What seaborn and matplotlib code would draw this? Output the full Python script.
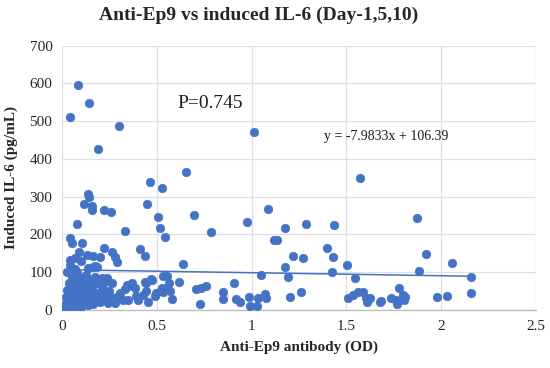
import numpy as np
import pandas as pd
import matplotlib
matplotlib.use("Agg")
import matplotlib.pyplot as plt
import seaborn as sns

# values (anti-Ep9 OD, induced IL-6 pg/mL)
od_sparse = [0.086, 0.141, 0.044, 0.298, 0.189, 0.463, 0.525, 0.653, 1.013, 1.573,
             0.137, 0.143, 0.116, 0.158, 0.155, 0.222, 0.257, 0.076, 0.446, 0.507,
             0.516, 0.544, 0.697, 0.786, 0.333, 0.044, 0.050, 0.106, 0.090, 0.129,
             0.164, 0.199, 0.220, 0.261, 0.278, 0.287, 0.410, 0.437, 0.636, 0.041,
             0.067, 0.102, 0.041, 0.173, 0.137, 0.164, 0.185, 0.551, 0.472, 0.442,
             0.618, 0.708, 0.735, 0.757, 0.727, 0.578, 0.208, 0.340, 0.367, 0.565,
             0.548, 0.569, 0.533, 0.525]
il6_sparse = [595, 548, 511, 487, 425, 340, 323, 366, 472, 348,
              307, 298, 280, 275, 265, 265, 258, 228, 280, 246,
              216, 192, 251, 206, 210, 190, 178, 176, 154, 145,
              142, 140, 163, 152, 139, 126, 162, 143, 121, 132,
              137, 130, 119, 115, 110, 113, 113, 90, 79, 72,
              75, 55, 57, 63, 16, 28, 85, 66, 71, 72,
              55, 51, 48, 57]

od_mid = [0.974, 1.087, 1.175, 1.287, 1.435, 1.118, 1.133, 1.397, 1.428, 1.217,
          1.270, 1.502, 1.178, 1.425, 1.051, 1.194, 1.546, 0.909, 0.851, 0.847,
          0.918, 0.939, 0.988, 0.991, 1.027, 1.035, 1.071, 1.076, 1.203, 1.259,
          1.511, 1.537, 1.564, 1.590, 1.604, 1.607, 1.678, 1.625, 1.684, 1.875,
          1.921, 2.059, 1.883, 2.159, 2.157, 2.032, 1.981, 1.777, 1.801, 1.810,
          1.798, 1.735, 1.763, 1.767, 1.805]
il6_mid = [234, 266, 218, 228, 226, 185, 185, 163, 141, 143,
           137, 118, 113, 101, 92, 88, 84, 72, 46, 28,
           28, 22, 35, 11, 10, 31, 42, 31, 34, 48,
           31, 40, 48, 46, 31, 22, 22, 31, 23, 244,
           147, 124, 103, 86, 44, 37, 34, 59, 40, 35,
           28, 31, 26, 16, 25]

od_dense = [0.012, 0.020, 0.018, 0.025, 0.030, 0.035, 0.040, 0.045, 0.050, 0.028, 0.050, 0.038,
            0.055, 0.060, 0.065, 0.070, 0.075, 0.080, 0.085, 0.090, 0.095, 0.100, 0.098, 0.070,
            0.105, 0.110, 0.115, 0.120, 0.125, 0.130, 0.135, 0.140, 0.145, 0.150,
            0.155, 0.160, 0.165, 0.170, 0.175, 0.180, 0.190, 0.195, 0.200,
            0.210, 0.215, 0.225, 0.230, 0.240, 0.245,
            0.236, 0.261, 0.226, 0.252, 0.296, 0.304, 0.330, 0.347, 0.365, 0.382,
            0.347, 0.400, 0.427, 0.445, 0.436, 0.471, 0.497, 0.524, 0.533, 0.453,
            0.489, 0.392, 0.278, 0.322]
il6_dense = [8, 18, 35, 52, 28, 70, 10, 45, 88, 100, 62, 22,
             5, 30, 15, 50, 75, 98, 38, 60, 22, 85, 8, 108,
             45, 18, 68, 30, 92, 55, 12, 40, 78, 25,
             60, 35, 15, 48, 88, 28, 70, 42, 20,
             55, 30, 75, 38, 18, 50,
             84, 71, 49, 36, 36, 45, 54, 63, 69, 58,
             27, 27, 40, 49, 75, 81, 45, 49, 90, 22,
             36, 36, 18, 27]

slope = -7.9833
intercept = 106.39
p_value = "P=0.745"
x_ticks = [0, 0.5, 1, 1.5, 2, 2.5]
y_ticks = [0, 100, 200, 300, 400, 500, 600, 700]

df = pd.DataFrame({
    "od": od_sparse + od_mid + od_dense,
    "il6": il6_sparse + il6_mid + il6_dense,
})

sns.set_style("white")
plt.rcParams["font.family"] = ["Liberation Serif", "DejaVu Serif"]

fig = plt.figure(figsize=(5.5, 3.68), dpi=100)
ax = fig.add_axes([0.113, 0.158, 0.861, 0.718])

blue = "#4472C4"
sns.scatterplot(data=df, x="od", y="il6", ax=ax, color=blue, s=40,
                edgecolor=blue, linewidth=0.3, zorder=3)

# linear trendline from the fitted equation
xl = np.array([df["od"].min(), df["od"].max()])
sns.lineplot(x=xl, y=slope * xl + intercept, ax=ax, color=blue, lw=1.1, zorder=2)

ax.set_xlim(0, 2.5)
ax.set_ylim(0, 700)
ax.set_xticks(x_ticks)
ax.set_xticklabels(["0", "0.5", "1", "1.5", "2", "2.5"])
ax.set_yticks(y_ticks)
ax.grid(True, color="#DCDFE6", lw=0.9, zorder=0)
ax.set_axisbelow(True)
for side in ["top", "right", "left"]:
    ax.spines[side].set_visible(False)
ax.spines["bottom"].set_color("#BFBFBF")
ax.spines["bottom"].set_linewidth(1.0)
ax.tick_params(axis="both", length=0, labelsize=11, colors="#262626", pad=7)

ax.set_xlabel("Anti-Ep9 antibody (OD)", fontsize=11, fontweight="bold", labelpad=6)
ax.set_ylabel("Induced IL-6 (pg/mL)", fontsize=11, fontweight="bold", labelpad=8)

ax.text(0.61, 548, p_value, fontsize=14, va="center", ha="left", color="#1a1a1a")
ax.text(1.383, 460, f"y = {slope}x + {intercept}", fontsize=10, va="center",
        ha="left", color="#1a1a1a")

fig.text(0.471, 0.958, "Anti-Ep9 vs induced IL-6 (Day-1,5,10)", fontsize=14,
         fontweight="bold", ha="center", va="center")

fig.savefig("out.png", dpi=100)
